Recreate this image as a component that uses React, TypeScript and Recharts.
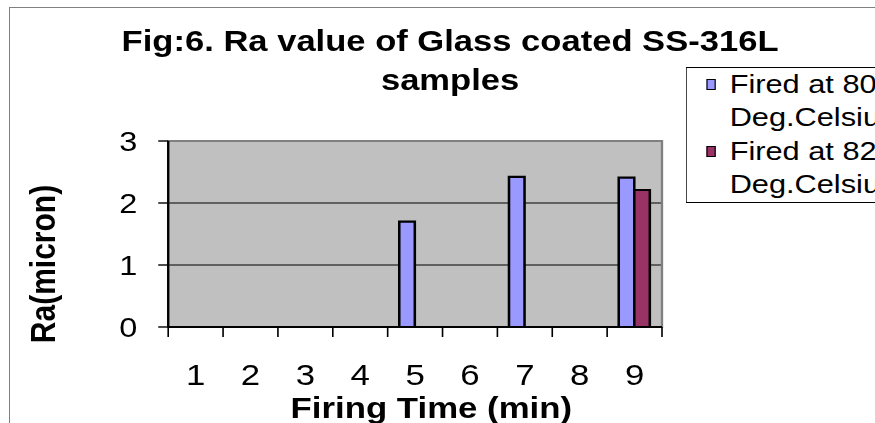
import React from 'react';
import { BarChart, Bar, XAxis, YAxis, CartesianGrid, ReferenceArea, Legend } from 'recharts';

const categories = ['1', '2', '3', '4', '5', '6', '7', '8', '9'];
const fired800 = [0, 0, 0, 0, 1.7, 0, 2.42, 0, 2.41];
const fired820 = [0, 0, 0, 0, 0, 0, 0, 0, 2.21];
const seriesNames = ['Fired at 800 Deg.Celsius', 'Fired at 820 Deg.Celsius'];
const yTicks = [0, 1, 2, 3];
const edgeTicks = [0, 1, 2, 3, 4, 5, 6, 7, 8, 9];
const titleLines = ['Fig:6. Ra value of Glass coated SS-316L', 'samples'];

const data = categories.map((c, i) => ({ t: c, pos: i + 0.5, a: fired800[i], b: fired820[i] }));

const S = 1.16;
const W = 875 / S;
const FONT = '"Liberation Sans", Arial, sans-serif';

const splitName = (name: string) => {
  const idx = name.indexOf(' Deg');
  return idx > 0 ? [name.slice(0, idx), name.slice(idx + 1)] : [name];
};

const renderLegend = (props: any) => {
  const payload = props.payload || [];
  return (
    <div
      style={{
        width: 320,
        height: 134,
        border: '1px solid #000',
        background: '#fff',
        fontFamily: FONT,
        fontSize: 26.5,
        lineHeight: '33.5px',
        color: '#000',
        boxSizing: 'content-box',
        position: 'relative',
      }}
    >
      {payload.map((p: any, i: number) => (
        <div key={i} style={{ position: 'relative', height: 67 }}>
          <div
            style={{
              position: 'absolute',
              left: 17,
              top: 11,
              width: 7.8,
              height: 11,
              background: p.color,
              border: '1.5px solid #000',
              boxSizing: 'border-box',
            }}
          />
          <div style={{ position: 'absolute', left: 37, top: 0, whiteSpace: 'nowrap' }}>
            {splitName(String(p.value)).map((l, j) => (
              <div key={j}>{l}</div>
            ))}
          </div>
        </div>
      ))}
    </div>
  );
};

const YLabel = (props: any) => {
  const vb = props.viewBox;
  const cx = vb.x + 47;
  const cy = vb.y + vb.height / 2 + 30;
  return (
    <text
      x={cx}
      y={cy}
      transform={`rotate(-90 ${cx} ${cy})`}
      textAnchor="middle"
      fontFamily={FONT}
      fontWeight="bold"
      fontSize={30}
      fill="#000"
    >
      Ra(micron)
    </text>
  );
};

export default function App() {
  return (
    <div style={{ position: 'absolute', left: 0, top: 0, width: 875, height: 423, overflow: 'hidden', background: '#fff' }}>
      <div style={{ position: 'absolute', left: 9, top: 7, width: 1000, height: 1000, border: '1px solid #808080' }} />
      <div style={{ position: 'absolute', left: 0, top: 0, width: W, height: 423, transform: `scaleX(${S})`, transformOrigin: '0 0' }}>
        <svg width={W} height={100} style={{ position: 'absolute', left: 0, top: 0 }}>
          <text x={388} y={51} textAnchor="middle" fontFamily={FONT} fontWeight="bold" fontSize={29.8} fill="#000">
            {titleLines[0]}
          </text>
          <text x={388} y={90} textAnchor="middle" fontFamily={FONT} fontWeight="bold" fontSize={29.8} fill="#000">
            {titleLines[1]}
          </text>
        </svg>
        <BarChart
          width={W}
          height={423}
          data={data}
          margin={{ top: 141, right: W - 570.7, bottom: 0, left: 0 }}
          barGap={0}
          barSize={13.4}
          style={{ position: 'absolute', left: 0, top: 0 }}
        >
          <CartesianGrid
            xAxisId="bCat"
            fill="#C0C0C0"
            fillOpacity={1}
            vertical={false}
            horizontalValues={[1, 2]}
            stroke="#000"
            strokeWidth={1.2}
          />
          <ReferenceArea xAxisId="bCat" y1={0} y2={3} fill="none" fillOpacity={0} stroke="#808080" strokeWidth={2} />
          <XAxis
            xAxisId="bCat"
            dataKey="t"
            axisLine={false}
            tickLine={false}
            tickSize={0}
            tickMargin={25}
            height={84}
            interval={0}
            tick={{ fontSize: 30, fontFamily: FONT, fill: '#000' }}
            label={{
              value: 'Firing Time (min)',
              position: 'insideBottom',
              offset: 5,
              dx: 14,
              fontSize: 30,
              fontWeight: 'bold',
              fontFamily: FONT,
              fill: '#000',
            }}
          />
          <XAxis
            xAxisId="aEdge"
            type="number"
            scale="linear"
            dataKey="pos"
            domain={[0, 9]}
            ticks={edgeTicks}
            tickFormatter={() => ''}
            tickSize={10}
            tickLine={{ stroke: '#000', strokeWidth: 1.4 }}
            axisLine={{ stroke: '#000', strokeWidth: 2 }}
            height={12}
            interval={0}
            allowDataOverflow
          />
          <YAxis
            width={145}
            domain={[0, 3]}
            ticks={yTicks}
            interval={0}
            tickSize={8.6}
            tickMargin={18}
            tickLine={{ stroke: '#000', strokeWidth: 1.4 }}
            axisLine={{ stroke: '#000', strokeWidth: 2 }}
            tick={{ fontSize: 28, fontFamily: FONT, fill: '#000' }}
            label={<YLabel />}
          />
          <Legend
            layout="vertical"
            align="center"
            verticalAlign="middle"
            content={renderLegend}
            wrapperStyle={{ position: 'absolute', left: 591, top: 66.7, width: 330 }}
          />
          <Bar xAxisId="bCat" dataKey="a" name={seriesNames[0]} fill="#9999FF" stroke="#000" strokeWidth={2.2} isAnimationActive={false} />
          <Bar xAxisId="bCat" dataKey="b" name={seriesNames[1]} fill="#993366" stroke="#000" strokeWidth={2.2} isAnimationActive={false} />
        </BarChart>
      </div>
    </div>
  );
}
